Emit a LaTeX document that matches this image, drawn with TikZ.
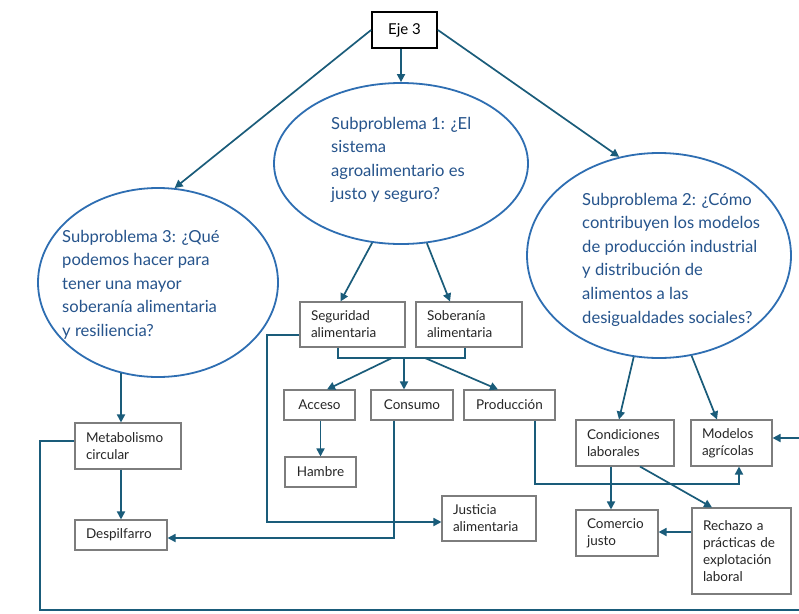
\documentclass[tikz,border=0pt]{standalone}
\usepackage{fontspec}
\setmainfont{Lato}
\usetikzlibrary{arrows.meta,shapes.geometric,calc,backgrounds}
\definecolor{ellcol}{RGB}{46,110,178}
\definecolor{etext}{RGB}{38,84,140}
\definecolor{arrcol}{RGB}{26,92,122}
\definecolor{boxcol}{RGB}{125,125,125}
\begin{document}
\begin{tikzpicture}[x=1pt,y=-1pt,
  ell/.style={draw=ellcol,line width=1.8pt,ellipse,inner sep=0pt},
  etxt/.style={anchor=base west,inner sep=0pt,align=left,text=etext,font=\fontsize{16.6}{23.6}\selectfont},
  box/.style={draw=boxcol,line width=1.1pt,fill=white,align=left,inner xsep=11pt,inner ysep=2pt,font=\fontsize{13.5}{17}\selectfont,text=black!85},
  cbox/.style={box,align=center},
  arr/.style={draw=arrcol,line width=1.7pt,-{Triangle[length=8pt,width=8pt]}},
  ln/.style={draw=arrcol,line width=1.7pt}
]
\useasboundingbox[fill=white] (0,0) rectangle (799,613);
\clip (0,0) rectangle (799,613);

% top
\node[draw=black,line width=1.8pt,minimum width=65pt,minimum height=36pt,inner sep=0pt,font=\fontsize{15}{18}\selectfont] (eje) at (404.5,30) {Eje 3};

% ellipses
\node[ell,minimum width=254pt,minimum height=161pt] (e1) at (401,163.5) {};
\node[ell,minimum width=240pt,minimum height=189pt] (e3) at (158,282.5) {};
\node[ell,minimum width=264pt,minimum height=205pt] (e2) at (659,255.5) {};

% (base anchor = baseline of the last line)
\node[etxt] (t1) at (331,199.8) {Subproblema 1: ¿El\\sistema\\agroalimentario es\\justo y seguro?};
\node[etxt] (t3) at (62,336.4) {Subproblema 3: ¿Qué\\podemos hacer para\\tener una mayor\\soberanía alimentaria\\y resiliencia?};
\node[etxt] (t2) at (582,323) {Subproblema 2: ¿Cómo\\contribuyen los modelos\\de producción industrial\\y distribución de\\alimentos a las\\desigualdades sociales?};

% boxes
\node[box,text width=83pt,minimum height=45pt] (seg) at (352.5,324.5) {Seguridad\\alimentaria};
\node[box,text width=84pt,minimum height=45pt] (sob) at (469,324.5) {Soberanía\\alimentaria};
\node[cbox,text width=49pt,minimum height=30pt] (acc) at (319.5,405) {Acceso};
\node[cbox,text width=60pt,minimum height=30pt] (con) at (412,405) {Consumo};
\node[cbox,text width=69pt,minimum height=30pt] (pro) at (509.5,405) {Producción};
\node[cbox,text width=49pt,minimum height=30pt] (ham) at (320.5,472) {Hambre};
\node[box,text width=72pt,minimum height=45pt] (jus) at (489,518.5) {Justicia\\alimentaria};
\node[box,text width=84pt,minimum height=46pt] (met) at (128,446) {Metabolismo\\circular};
\node[box,text width=70pt,minimum height=30pt] (des) at (121,535) {Despilfarro};
\node[box,text width=76pt,minimum height=46pt] (cond) at (625,443) {Condiciones\\laborales};
\node[box,text width=59pt,minimum height=46pt] (mod) at (731.5,443) {Modelos\\agrícolas};
\node[box,text width=60pt,minimum height=46pt] (com) at (617,533) {Comercio\\justo};
\node[box,text width=77pt,minimum height=86pt] (rec) at (741.5,551) {Rechazo a\\prácticas de\\explotación\\laboral};

% connectors from Eje 3
\draw[arr] (eje.west) -- (e3.80);
\draw[arr] (eje.south -| e1.north) -- (e1.north);
\draw[arr] (eje.east) -- (e2.112);

% subproblema 1
\draw[arr] (e1.250) -- ([xshift=-12pt]seg.north);
\draw[arr] (e1.288) -- ([xshift=-19pt]sob.north);
\coordinate (bus) at (404,358);
\draw[ln] ([xshift=-14.5pt]seg.south) |- (bus) -| ([xshift=-4pt]sob.south);
\draw[arr] ([xshift=-12pt]bus) -- ([xshift=7.5pt]acc.north);
\draw[arr] (bus) -- (bus |- con.north);
\draw[arr] ([xshift=21pt]bus) -- ([xshift=-11.5pt]pro.north);

\coordinate (segW) at ($(seg.west)+(0,10.5)$);
\coordinate (bendL) at (267,522);
\draw[arr] (segW) -| (bendL) -- (bendL -| jus.west);

\coordinate (sobR) at ([xshift=47pt]sob.south);
\begin{scope}[on background layer]
\draw[arr] (sobR) -- (sobR |- jus.north);
\end{scope}

\coordinate (proR) at ([xshift=25.5pt]pro.south);
\coordinate (modB) at ([xshift=7.5pt]mod.south);
\coordinate (rowP) at (600,484);
\draw[arr] (proR) -- (proR |- rowP) -| (modB);

\draw[arr] (ham.north |- acc.south) -- (ham.north);

\coordinate (conB) at ([xshift=-18pt]con.south);
\coordinate (desR) at ($(des.east)+(0,3)$);
\draw[arr] (conB) |- (desR);

% subproblema 3
\coordinate (colM) at ([xshift=-7pt]met.north);
\draw[arr] (colM |- e3.248) -- (colM);
\draw[arr] (colM |- met.south) -- (colM |- des.north);

\coordinate (metW) at ($(met.west)+(0,-5)$);
\coordinate (loopBL) at (40,610);
\coordinate (loopBR) at (830,610);
\coordinate (modR) at ($(mod.east)+(0,-5)$);
\draw[arr] (metW) -| (loopBL) -- (loopBR) |- (modR);

% subproblema 2
\draw[arr] (e2.256) -- ([xshift=-6pt]cond.north);
\draw[arr] (e2.288) -- ([xshift=-14.5pt]mod.north);
\coordinate (condL) at ([xshift=-14pt]cond.south);
\draw[arr] (condL) -- (condL |- com.north);
\draw[arr] ([xshift=15pt]cond.south) -- ([xshift=-29.5pt]rec.north);
\coordinate (recL) at ($(rec.west)+(0,-19)$);
\draw[arr] (recL) -- (recL -| com.east);
\end{tikzpicture}
\end{document}
